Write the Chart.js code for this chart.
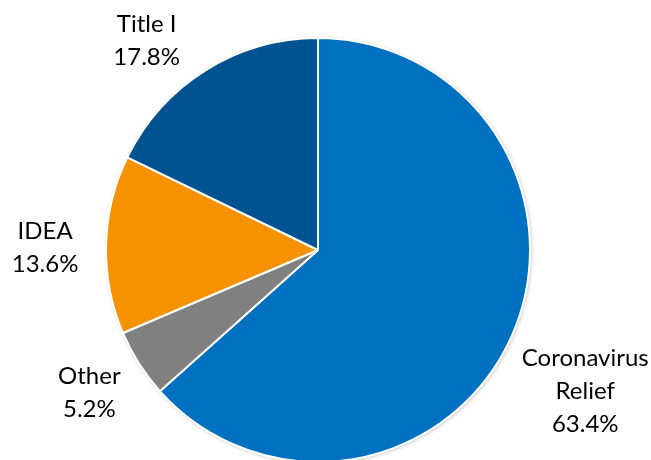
<!DOCTYPE html>
<html>
<head>
<meta charset="utf-8">
<script src="https://cdn.jsdelivr.net/npm/chart.js@4"></script>
<style>
  html, body { margin: 0; padding: 0; background: #fff; overflow: hidden; }
  #wrap { width: 651px; height: 460px; }
</style>
</head>
<body>
<div id="wrap"><canvas id="pieChart" width="651" height="460"></canvas></div>
<script>
// Datos del gráfico
const labels = [['Coronavirus', 'Relief'], ['Other'], ['IDEA'], ['Title I']];
const shares = [63.4, 5.2, 13.6, 17.8];
const colors = ['#0070C0', '#808080', '#F69200', '#005291'];

// Ajustes de posición de las etiquetas (px) respecto al ángulo medio
const labelNudge = [[19, 30], [1, -3], [-1, 4], [-27, 21]];

// Plugin para dibujar etiquetas fuera del pastel
const outsideLabels = {
    id: 'outsideLabels',
    beforeDatasetsDraw(chart) {
        // sombra suave bajo el pastel
        const ctx = chart.ctx;
        ctx.save();
        ctx.shadowColor = 'rgba(0,0,0,0.28)';
        ctx.shadowBlur = 4;
        ctx.shadowOffsetX = 1;
        ctx.shadowOffsetY = 1;
        const arc = chart.getDatasetMeta(0).data[0];
        ctx.beginPath();
        ctx.arc(arc.x, arc.y, arc.outerRadius, 0, Math.PI * 2);
        ctx.fillStyle = '#fff';
        ctx.fill();
        ctx.restore();
    },
    afterDatasetsDraw(chart) {
        const ctx = chart.ctx;
        const meta = chart.getDatasetMeta(0);
        ctx.save();
        ctx.font = '24px Lato';
        ctx.fillStyle = '#000';
        ctx.textAlign = 'center';
        ctx.textBaseline = 'alphabetic';
        meta.data.forEach((el, i) => {
            const mid = (el.startAngle + el.endAngle) / 2;
            const dist = el.outerRadius + 60;
            const cx = el.x + Math.cos(mid) * dist + labelNudge[i][0];
            const cy = el.y + Math.sin(mid) * dist + labelNudge[i][1];
            const lines = labels[i].concat([shares[i].toFixed(1) + '%']);
            const step = 33;
            lines.forEach((txt, j) => {
                const y = cy - (lines.length - 1) * step / 2 + j * step + 8;
                ctx.fillText(txt, cx, y);
            });
        });
        ctx.restore();
    }
};

new Chart(document.getElementById('pieChart'), {
    type: 'pie',
    data: {
        labels: labels,
        datasets: [{
            data: shares,
            backgroundColor: colors,
            borderColor: '#fff',
            borderWidth: 2,
            radius: 212
        }]
    },
    options: {
        responsive: false,
        animation: false,
        layout: { padding: { left: 0, right: 15, top: 40, bottom: 0 } },
        plugins: {
            legend: { display: false },
            tooltip: { enabled: false }
        }
    },
    plugins: [outsideLabels]
});
</script>
</body>
</html>
